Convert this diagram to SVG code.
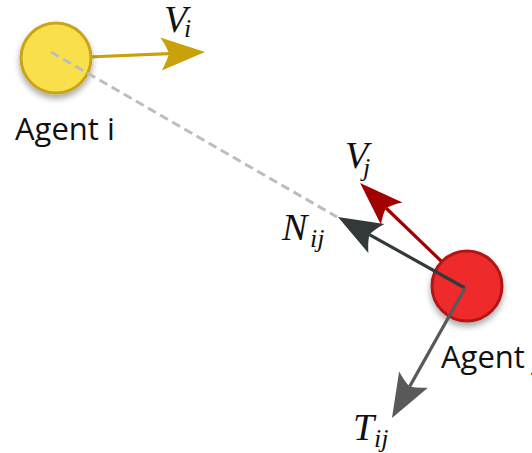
<svg xmlns="http://www.w3.org/2000/svg" width="532" height="453" viewBox="0 0 532 453">
<style>
.lbl{font-family:"Open Sans","DejaVu Sans",sans-serif;font-size:31px;fill:#111}
.m{font-family:"Liberation Serif","DejaVu Serif",serif;font-style:italic;fill:#111}
.big{font-size:38px}
.sub{font-size:26px}
.vec{fill:none;stroke-width:3.2}
</style>
<defs>
<filter id="sh" x="-30%" y="-30%" width="160%" height="170%">
<feDropShadow dx="0" dy="4" stdDeviation="3" flood-color="#000" flood-opacity="0.35"/>
</filter>
<marker id="hGold" markerUnits="userSpaceOnUse" viewBox="-10 -18 48 36" refX="0" refY="0" markerWidth="48" markerHeight="36" orient="auto" overflow="visible"><path d="M36,0 L-8,-16.5 Q-2,-7 0,0 Q-2,7 -8,16.5 Z" fill="#c8a208"/></marker>
<marker id="hRed" markerUnits="userSpaceOnUse" viewBox="-10 -18 48 36" refX="0" refY="0" markerWidth="48" markerHeight="36" orient="auto" overflow="visible"><path d="M36,0 L-8,-15.5 Q-2,-7 0,0 Q-2,7 -8,15.5 Z" fill="#a30000"/></marker>
<marker id="hDark" markerUnits="userSpaceOnUse" viewBox="-10 -18 48 36" refX="0" refY="0" markerWidth="48" markerHeight="36" orient="auto" overflow="visible"><path d="M36,0 L-8,-16.5 Q-2,-7 0,0 Q-2,7 -8,16.5 Z" fill="#33393b"/></marker>
<marker id="hGray" markerUnits="userSpaceOnUse" viewBox="-10 -18 48 36" refX="0" refY="0" markerWidth="48" markerHeight="36" orient="auto" overflow="visible"><path d="M36,0 L-8,-16.5 Q-2,-7 0,0 Q-2,7 -8,16.5 Z" fill="#595959"/></marker>
</defs>
<g id="connectors-under">
<line id="Vi" class="vec" x1="88" y1="57" x2="169" y2="53.6" stroke="#c8a208" marker-end="url(#hGold)"/>
<line id="Vj" class="vec" x1="467" y1="286" x2="386" y2="208" stroke="#a30000" marker-end="url(#hRed)"/>
</g>
<g id="agent-i">
<circle cx="56" cy="58" r="35" fill="#f9e04b" stroke="#c8a41a" stroke-width="3" filter="url(#sh)"/>
<text class="lbl" x="15" y="140">Agent i</text>
</g>
<g id="agent-j">
<circle cx="467" cy="286" r="35" fill="#ee2a2a" stroke="#b01818" stroke-width="3" filter="url(#sh)"/>
<text class="lbl" x="441" y="368">Agent j</text>
</g>
<g id="connectors">
<line id="dash" x1="51" y1="52" x2="337" y2="217" stroke="#bdbdbd" stroke-width="3" stroke-dasharray="9 5"/>
<line id="Nij" class="vec" x1="465" y1="288" x2="369.4" y2="234.6" stroke="#33393b" marker-end="url(#hDark)"/>
<line id="Tij" class="vec" x1="465" y1="288" x2="409.6" y2="386.6" stroke="#595959" marker-end="url(#hGray)"/>
</g>
<g id="labels">
<text class="m big" x="164" y="32">V</text><text class="m sub" x="184" y="37">i</text>
<text class="m big" x="345" y="168">V</text><text class="m sub" x="363" y="176">j</text>
<text class="m big" x="282" y="240">N</text><text class="m sub" x="310" y="247">ij</text>
<text class="m big" x="353" y="440">T</text><text class="m sub" x="374" y="447">ij</text>
</g>
</svg>
